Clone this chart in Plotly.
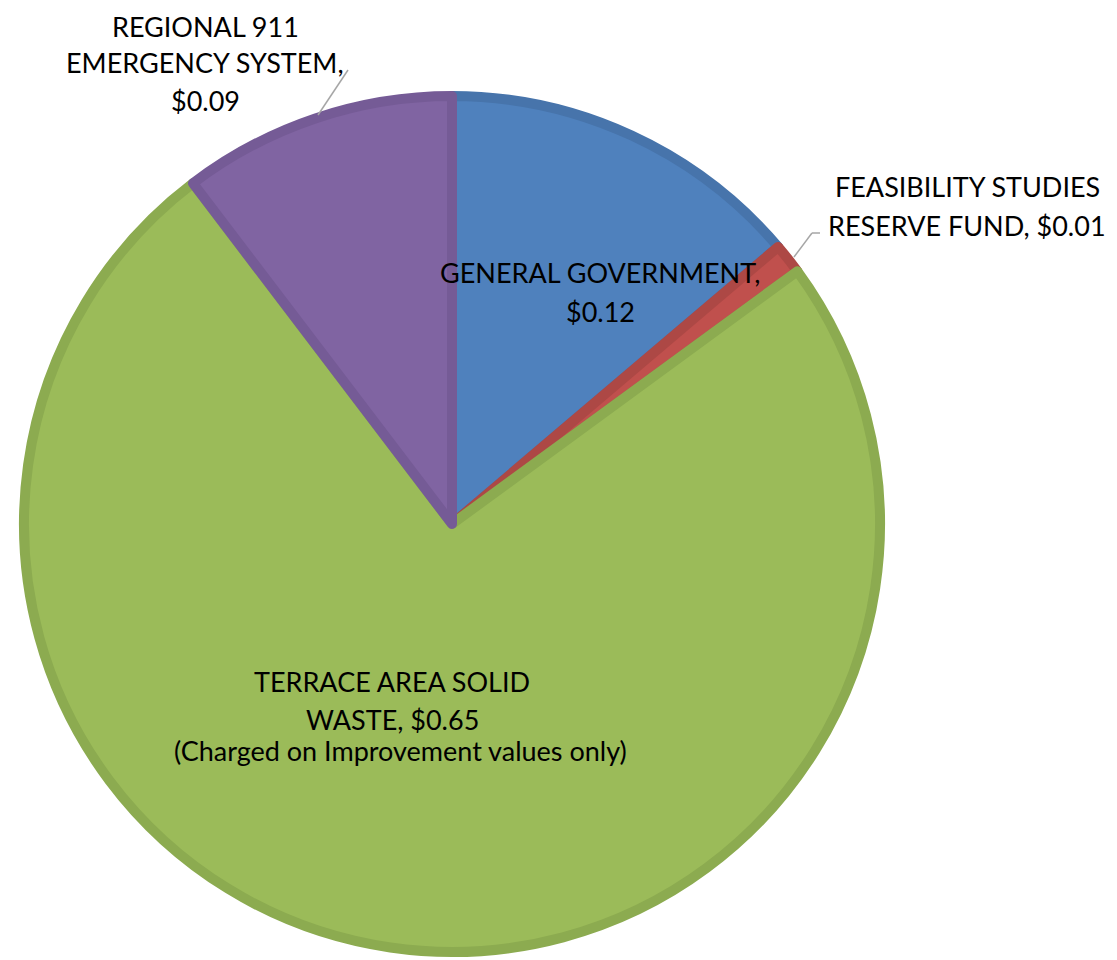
import plotly.graph_objects as go

labels = ["GENERAL GOVERNMENT", "FEASIBILITY STUDIES RESERVE FUND",
          "TERRACE AREA SOLID WASTE", "REGIONAL 911 EMERGENCY SYSTEM"]
values = [0.12, 0.01, 0.65, 0.09]
fill_colors = ["#4F81BD", "#C0504D", "#9BBB59", "#8064A2"]
edge_colors = ["#4774AB", "#AD4845", "#8CAB50", "#755B96"]

W, H = 1117, 960
OFF = 8  # page body margin
cx, cy, R_out, lw = 452 - OFF, 524 - OFF, 433, 10
R = R_out - lw / 2

fig = go.Figure(go.Pie(
    labels=labels, values=values, sort=False, direction="clockwise", rotation=0,
    marker=dict(colors=fill_colors, line=dict(color=edge_colors, width=lw)),
    textinfo="none", hoverinfo="label+value", showlegend=False,
    domain=dict(x=[(cx - R) / W, (cx + R) / W], y=[(H - cy - R) / H, (H - cy + R) / H]),
))

FONT = "Lato"
def px(x, y):
    return (x - OFF) / W, 1 - (y - OFF) / H

def ann(lines, x, y0, step=39, size=27):
    for i, t in enumerate(lines):
        xx, yy = px(x, y0 + i * step)
        fig.add_annotation(x=xx, y=yy, xref="paper", yref="paper", text=t, showarrow=False,
                           xanchor="center", yanchor="middle", align="center", borderpad=0,
                           font=dict(family=FONT, size=size, color="#000000"))

ann(["REGIONAL 911", "EMERGENCY SYSTEM,", "$0.09"], 205, 26, step=37)
ann(["FEASIBILITY STUDIES", "RESERVE FUND, $0.01"], 967, 186)
ann(["GENERAL GOVERNMENT,", "$0.12"], 600, 272)
ann(["TERRACE AREA SOLID", "WASTE, $0.65"], 392, 681, step=38)
ann(["(Charged on Improvement values only)"], 400, 750, size=27)

def seg(x0, y0, x1, y1):
    a0, b0 = px(x0, y0)
    a1, b1 = px(x1, y1)
    fig.add_shape(type="line", xref="paper", yref="paper", x0=a0, y0=b0, x1=a1, y1=b1,
                  line=dict(color="#A6A6A6", width=1.5))

seg(348, 70, 318, 115)
seg(820, 233, 812, 233)
seg(812, 233, 794, 257)

fig.update_layout(width=W, height=H, margin=dict(l=0, r=0, t=0, b=0),
                  paper_bgcolor="white", plot_bgcolor="white")
fig.write_html("out.html")
